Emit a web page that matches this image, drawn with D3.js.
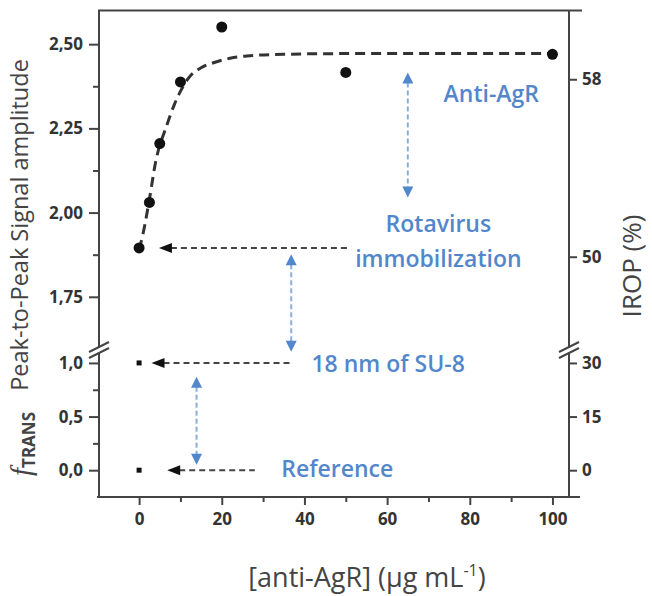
<!DOCTYPE html>
<html>
<head>
<meta charset="utf-8">
<script src="https://cdn.jsdelivr.net/npm/d3@7/dist/d3.min.js"></script>
<style>
  html, body { margin: 0; padding: 0; background: #fff; }
  svg { display: block; }
</style>
</head>
<body>
<svg id="chart" width="652" height="596"></svg>
<script>
// ---------------- data ----------------
const concX = [0, 2.5, 5, 10, 20, 50, 100];
const amplitude = [1.895, 2.03, 2.205, 2.388, 2.551, 2.416, 2.470];
const fitX = [0, 1, 2.5, 4, 5, 6, 7, 8.5, 10, 12, 15, 18, 22, 26, 35, 50, 100];
const fitY = [1.89, 1.94, 2.04, 2.15, 2.20, 2.235, 2.27, 2.32, 2.36, 2.40, 2.43, 2.445, 2.458, 2.465, 2.47, 2.472, 2.472];
const fConcX = [0, 0];
const fTrans = [1.0, 0.0];

const xTicks = [0, 20, 40, 60, 80, 100];
const xMinorTicks = [10, 30, 50, 70, 90];
const ampTicks = [1.75, 2.00, 2.25, 2.50];
const ampMinorTicks = [1.875, 2.125, 2.375];
const fTicks = [0, 0.5, 1.0];
const fMinorTicks = [0.25, 0.75];
const iropUpperTicks = [50, 58];
const iropLowerTicks = [0, 15, 30];

// ---------------- layout ----------------
const svg = d3.select("#chart");
const L = 99, R = 569, T = 10.5, B = 497, BRK = 349;
const axisColor = "#444";
const textColor = "#333";
const blue = "#5287cc";
const blueLine = "#86aee0";

const x = d3.scaleLinear().domain([-9.7, 104]).range([L, R]);
const yUp = d3.scaleLinear().domain([1.595, 2.6]).range([BRK, T]);
const yLow = d3.scaleLinear().domain([-0.25, 1.13]).range([B, BRK]);
const rUp = d3.scaleLinear().domain([45.84, 61.1]).range([BRK, T]);
const rLow = d3.scaleLinear().domain([-7.5, 33.9]).range([B, BRK]);

const comma = d3.formatLocale({decimal: ",", thousands: ".", grouping: [3], currency: ["", ""]});
const f2 = comma.format(".2f");
const f1 = comma.format(".1f");

const tickFont = "'Open Sans', sans-serif";

function styleAxis(g) {
  g.select(".domain").remove();
  g.selectAll(".tick line").attr("stroke", axisColor).attr("stroke-width", 2);
  g.selectAll(".tick text").attr("fill", textColor).attr("font-family", tickFont)
    .attr("font-weight", 700).attr("font-size", 17);
}
function minor(g) {
  g.select(".domain").remove();
  g.selectAll(".tick line").attr("stroke", axisColor).attr("stroke-width", 2);
  g.selectAll(".tick text").remove();
}

// left axes
svg.append("g").attr("transform", `translate(${L},0)`)
  .call(d3.axisLeft(yUp).tickValues(ampTicks).tickFormat(f2).tickSize(10).tickPadding(6)).call(styleAxis);
svg.append("g").attr("transform", `translate(${L},0)`)
  .call(d3.axisLeft(yUp).tickValues(ampMinorTicks).tickSize(6)).call(minor);
svg.append("g").attr("transform", `translate(${L},0)`)
  .call(d3.axisLeft(yLow).tickValues(fTicks).tickFormat(f1).tickSize(10).tickPadding(6)).call(styleAxis);
svg.append("g").attr("transform", `translate(${L},0)`)
  .call(d3.axisLeft(yLow).tickValues(fMinorTicks).tickSize(6)).call(minor);

// right axes
svg.append("g").attr("transform", `translate(${R},0)`)
  .call(d3.axisRight(rUp).tickValues(iropUpperTicks).tickFormat(d3.format("d")).tickSize(8).tickPadding(5)).call(styleAxis);
svg.append("g").attr("transform", `translate(${R},0)`)
  .call(d3.axisRight(rLow).tickValues(iropLowerTicks).tickFormat(d3.format("d")).tickSize(8).tickPadding(5)).call(styleAxis);

// bottom axis
svg.append("g").attr("transform", `translate(0,${B})`)
  .call(d3.axisBottom(x).tickValues(xTicks).tickFormat(d3.format("d")).tickSize(8).tickPadding(8)).call(styleAxis);
svg.append("g").attr("transform", `translate(0,${B})`)
  .call(d3.axisBottom(x).tickValues(xMinorTicks).tickSize(5)).call(minor);

// frame
const frame = svg.append("g").attr("stroke", axisColor).attr("stroke-width", 2).attr("fill", "none");
frame.append("line").attr("x1", L - 1).attr("x2", R + 13).attr("y1", T).attr("y2", T);
frame.append("line").attr("x1", L - 2).attr("x2", R + 11).attr("y1", B).attr("y2", B);
frame.append("line").attr("x1", L).attr("x2", L).attr("y1", T).attr("y2", B);
frame.append("line").attr("x1", R).attr("x2", R).attr("y1", T).attr("y2", B);

// break marks
[L, R].forEach(ax => {
  svg.append("polygon")
    .attr("points", `${ax - 10},${BRK + 3} ${ax + 10},${BRK - 7} ${ax + 10},${BRK - 1} ${ax - 10},${BRK + 9}`)
    .attr("fill", "#fff");
  [0, 6].forEach(o => {
    svg.append("line")
      .attr("x1", ax - 10).attr("y1", BRK + 3 + o)
      .attr("x2", ax + 10).attr("y2", BRK - 7 + o)
      .attr("stroke", axisColor).attr("stroke-width", 2);
  });
});

// fit curve
const fitData = fitX.map((v, i) => [v, fitY[i]]);
svg.append("path")
  .datum(fitData)
  .attr("d", d3.line().x(d => x(d[0])).y(d => yUp(d[1])).curve(d3.curveMonotoneX))
  .attr("fill", "none").attr("stroke", "#333").attr("stroke-width", 3)
  .attr("stroke-dasharray", "10,6");

// points
svg.append("g").selectAll("circle")
  .data(concX.map((v, i) => [v, amplitude[i]]))
  .join("circle")
  .attr("cx", d => x(d[0])).attr("cy", d => yUp(d[1])).attr("r", 5.5).attr("fill", "#111");
svg.append("g").selectAll("rect")
  .data(fConcX.map((v, i) => [v, fTrans[i]]))
  .join("rect")
  .attr("x", d => x(d[0]) - 2.5).attr("y", d => yLow(d[1]) - 2.5)
  .attr("width", 5).attr("height", 5).attr("fill", "#111");

// black dashed arrows (pointing left)
const blackArrows = [
  {scale: yUp, y: 1.895, x1: 4.8, x2: 51},
  {scale: yLow, y: 1.0, x1: 3.0, x2: 36.5},
  {scale: yLow, y: 0.0, x1: 6.8, x2: 28}
];
blackArrows.forEach(a => {
  const yy = a.scale(a.y), xt = x(a.x1);
  svg.append("line").attr("x1", xt + 12).attr("x2", x(a.x2)).attr("y1", yy).attr("y2", yy)
    .attr("stroke", "#444").attr("stroke-width", 2).attr("stroke-dasharray", "6,4");
  svg.append("path").attr("d", `M${xt},${yy} L${xt + 13},${yy - 5} L${xt + 13},${yy + 5} Z`).attr("fill", "#111");
});

// blue double arrows
const blueArrows = [
  {x: 65, top: yUp(2.416), bot: yUp(2.045)},
  {x: 36.8, top: yUp(1.876), bot: yLow(1.105)},
  {x: 13.9, top: yLow(0.872), bot: yLow(0.05)}
];
blueArrows.forEach(a => {
  const xx = x(a.x);
  svg.append("line").attr("x1", xx).attr("x2", xx).attr("y1", a.top + 10).attr("y2", a.bot - 10)
    .attr("stroke", blueLine).attr("stroke-width", 2).attr("stroke-dasharray", "5,3");
  svg.append("path").attr("d", `M${xx},${a.top} L${xx - 5.5},${a.top + 11} L${xx + 5.5},${a.top + 11} Z`).attr("fill", blue);
  svg.append("path").attr("d", `M${xx},${a.bot} L${xx - 5.5},${a.bot - 11} L${xx + 5.5},${a.bot - 11} Z`).attr("fill", blue);
});

// blue annotation text
const annFont = "'Open Sans', sans-serif";
function ann(txt, xv, yPix, anchor) {
  svg.append("text").attr("x", x(xv)).attr("y", yPix).attr("text-anchor", anchor)
    .attr("dominant-baseline", "central")
    .attr("font-family", annFont).attr("font-weight", 600).attr("font-size", 23)
    .attr("fill", blue).text(txt);
}
ann("Anti-AgR", 85.2, yUp(2.356), "middle");
ann("Rotavirus", 72.4, yUp(1.97), "middle");
ann("immobilization", 72.4, yUp(1.866), "middle");
ann("18 nm of SU-8", 41.7, yLow(1.0), "start");
ann("Reference", 34.4, yLow(0.02), "start");

// axis titles
svg.append("text").attr("transform", "translate(28,225) rotate(-90)")
  .attr("text-anchor", "middle").attr("font-family", "'Open Sans', sans-serif")
  .attr("font-size", 23.5).attr("fill", "#444").text("Peak-to-Peak Signal amplitude");

const ft = svg.append("text").attr("transform", "translate(31,444) rotate(-90)")
  .attr("text-anchor", "middle").attr("fill", "#444");
ft.append("tspan").attr("font-family", "'Liberation Serif', serif").attr("font-style", "italic")
  .attr("font-size", 29).text("f");
ft.append("tspan").attr("font-family", "'Open Sans', sans-serif").attr("font-weight", 700)
  .attr("font-size", 17).attr("dy", 4).text("TRANS");

svg.append("text").attr("transform", "translate(641,266) rotate(-90)")
  .attr("text-anchor", "middle").attr("font-family", "'Open Sans', sans-serif")
  .attr("font-size", 26).attr("fill", "#444").text("IROP (%)");

const xl = svg.append("text").attr("x", 367).attr("y", 587).attr("text-anchor", "middle")
  .attr("font-family", "'Open Sans', sans-serif").attr("font-size", 27).attr("fill", "#444");
xl.append("tspan").text("[anti-AgR] (µg mL");
xl.append("tspan").attr("font-size", 16).attr("dy", -11).text("-1");
xl.append("tspan").attr("dy", 11).text(")");
</script>
</body>
</html>
